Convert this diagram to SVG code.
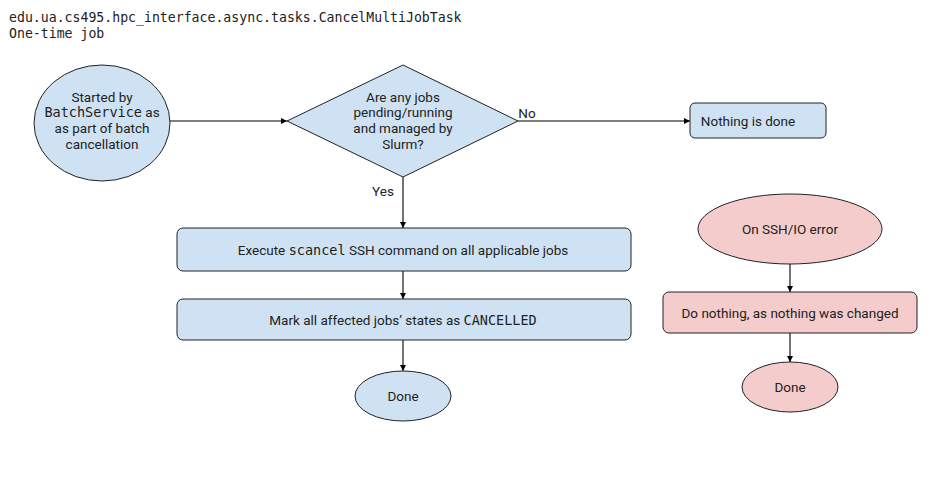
<svg xmlns="http://www.w3.org/2000/svg" width="933" height="498" viewBox="0 0 933 498">
<style>
.t{font-family:Roboto,"Liberation Sans",sans-serif;font-size:13.5px;fill:#222;text-anchor:middle}
.m{font-family:"DejaVu Sans Mono","Liberation Mono",monospace}
.title{font-family:"DejaVu Sans Mono","Liberation Mono",monospace;font-size:13.2px;fill:#222}
.b{fill:#cfe2f3;stroke:#222;stroke-width:1}
.r{fill:#f4cccc;stroke:#222;stroke-width:1}
.c{fill:none;stroke:#000;stroke-width:1.1;marker-end:url(#a)}
</style>
<defs>
<marker id="a" viewBox="0 0 10 10" refX="10" refY="5" markerWidth="6" markerHeight="6" markerUnits="userSpaceOnUse" orient="auto">
<path d="M0,0 L10,5 L0,10 z" fill="#000"/>
</marker>
</defs>
<rect width="933" height="498" fill="#fff"/>
<text class="title" x="9" y="22">edu.ua.cs495.hpc_interface.async.tasks.CancelMultiJobTask</text>
<text class="title" x="9" y="38">One-time job</text>
<g id="connectors">
<path class="c" d="M170,121 H287"/>
<path class="c" d="M518,121 H690"/>
<path class="c" d="M403,177 V228"/>
<path class="c" d="M403,271 V299"/>
<path class="c" d="M403,340 V371"/>
<path class="c" d="M790,264 V292"/>
<path class="c" d="M790,333 V362"/>
<text class="t" x="527" y="118">No</text>
<text class="t" x="383" y="196">Yes</text>
</g>
<g id="start">
<ellipse class="b" cx="102" cy="123" rx="68" ry="58"/>
<text class="t" x="102" y="102">Started by</text>
<text class="t" x="102" y="117"><tspan class="m">BatchService</tspan> as</text>
<text class="t" x="102" y="133">as part of batch</text>
<text class="t" x="102" y="149">cancellation</text>
</g>
<g id="decision">
<path class="b" d="M287,121 L403,65 L518,121 L403,177 Z"/>
<text class="t" x="403" y="102">Are any jobs</text>
<text class="t" x="403" y="117">pending/running</text>
<text class="t" x="403" y="133">and managed by</text>
<text class="t" x="403" y="149">Slurm?</text>
</g>
<g id="nothing">
<rect class="b" x="690" y="103" width="136" height="35" rx="5"/>
<text class="t" x="748" y="126">Nothing is done</text>
</g>
<g id="execute">
<rect class="b" x="177" y="228" width="454" height="43" rx="6"/>
<text class="t" x="403" y="255">Execute <tspan class="m">scancel</tspan> SSH command on all applicable jobs</text>
</g>
<g id="mark">
<rect class="b" x="177" y="299" width="454" height="41" rx="6"/>
<text class="t" x="403" y="325">Mark all affected jobs’ states as <tspan class="m">CANCELLED</tspan></text>
</g>
<g id="done1">
<ellipse class="b" cx="403" cy="396" rx="48" ry="25"/>
<text class="t" x="403" y="401">Done</text>
</g>
<g id="error">
<ellipse class="r" cx="790" cy="229" rx="92" ry="35"/>
<text class="t" x="790" y="234">On SSH/IO error</text>
</g>
<g id="donothing">
<rect class="r" x="663" y="292" width="254" height="41" rx="6"/>
<text class="t" x="790" y="318">Do nothing, as nothing was changed</text>
</g>
<g id="done2">
<ellipse class="r" cx="790" cy="387" rx="48" ry="25"/>
<text class="t" x="790" y="392">Done</text>
</g>
</svg>
